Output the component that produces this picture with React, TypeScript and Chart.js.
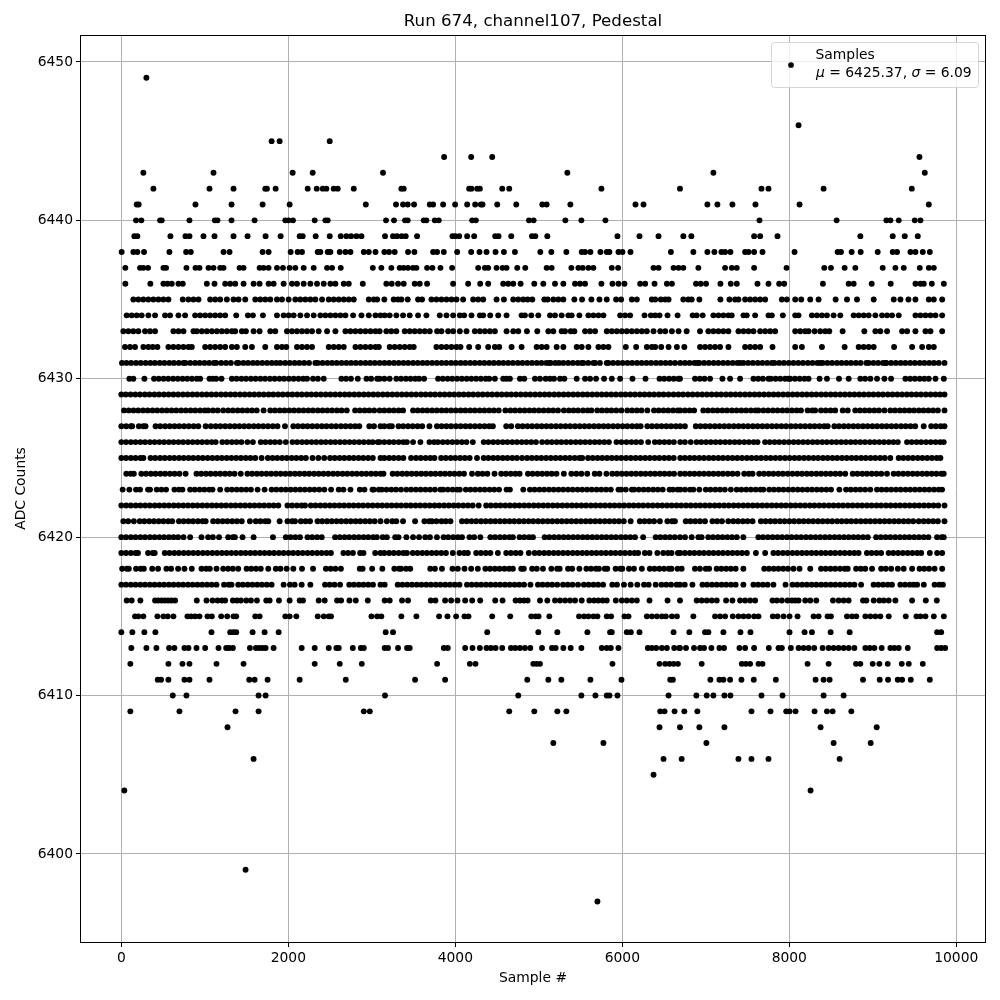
import React, { useEffect, useRef } from "react";
import { Chart, registerables } from "chart.js";

Chart.register(...registerables);

const chartTitle = "Run 674, channel107, Pedestal";
const xAxisLabel = "Sample #";
const yAxisLabel = "ADC Counts";
const seriesLabel = "Samples";
const meanValue = "6425.37";
const sigmaValue = "6.09";
const xTickValues = [0, 2000, 4000, 6000, 8000, 10000];
const yTickValues = [6400, 6410, 6420, 6430, 6440, 6450];

const at6449 = [300];
const at6446 = [8111];
const at6445 = [1800, 1896, 2496];
const at6444 = [3866, 4190, 4442, 9559];
const at6443 = [264, 1104, 2052, 2292, 3134, 5342, 7091, 9623];
const at6442 = [384, 1056, 1344, 1724, 1744, 1848, 2232, 2340, 2412, 2456, 2544, 2592, 2784, 3354, 3382, 4166, 4194, 4262, 4294, 4562, 4646, 5750, 6691, 7667, 7751, 8411, 9467];
const at6441 = [184, 208, 888, 1320, 1692, 2016, 2928, 3290, 3374, 3430, 3506, 3694, 3734, 3854, 3998, 4142, 4238, 4306, 4326, 4502, 4730, 5042, 5094, 5378, 6158, 6254, 7019, 7139, 7319, 7595, 8123, 9671];
const at6440 = [176, 240, 464, 484, 816, 1120, 1152, 1320, 1596, 1964, 2004, 2056, 2316, 2444, 2472, 3170, 3266, 3398, 3430, 3622, 3654, 3754, 3802, 4202, 4246, 4882, 4938, 5318, 5510, 5798, 7643, 8567, 9163, 9211, 9311, 9503, 9571];
const at6439 = [156, 192, 588, 768, 816, 984, 1116, 1344, 1512, 1728, 1908, 2136, 2172, 2328, 2496, 2628, 2696, 2752, 2816, 2876, 3158, 3254, 3302, 3358, 3406, 3542, 3966, 3998, 4046, 4142, 4226, 4478, 4518, 4670, 4918, 4958, 5102, 5942, 6206, 6434, 6731, 6827, 7579, 7651, 7859, 8851, 9239, 9383, 9539];
const at6438 = [4, 144, 192, 272, 576, 776, 832, 1224, 1296, 1692, 1764, 2028, 2112, 2164, 2352, 2384, 2472, 2504, 2616, 2684, 2744, 2904, 2964, 3044, 3150, 3206, 3274, 3434, 3510, 3734, 3782, 3862, 4022, 4190, 4290, 4374, 4482, 4582, 4714, 5018, 5150, 5330, 5514, 5554, 5618, 5738, 5814, 5846, 5954, 6002, 6098, 6582, 6851, 7019, 7103, 7187, 7231, 7295, 7471, 7511, 7579, 7679, 8063, 8579, 8619, 8747, 8855, 9059, 9239, 9291, 9451, 9511, 9599, 9683];
const at6437 = [48, 224, 264, 320, 504, 536, 780, 888, 936, 1044, 1104, 1184, 1224, 1416, 1464, 1656, 1704, 1764, 1864, 1936, 2016, 2084, 2184, 2304, 2464, 2524, 2628, 3012, 3114, 3234, 3334, 3382, 3434, 3494, 3534, 3662, 3726, 3822, 3962, 4274, 4354, 4394, 4494, 4566, 4614, 4742, 4838, 5094, 5154, 5390, 5474, 5526, 5594, 5654, 5874, 5950, 6374, 6434, 6614, 6674, 6731, 6911, 7231, 7311, 7371, 7579, 7967, 8419, 8499, 8663, 8791, 9119, 9271, 9371, 9563, 9671, 9731];
const at6436 = [48, 348, 504, 552, 604, 684, 736, 1024, 1116, 1244, 1304, 1364, 1464, 1584, 1656, 1764, 1824, 1944, 2044, 2104, 2184, 2264, 2344, 2424, 2504, 2564, 2664, 2724, 2892, 3174, 3238, 3314, 3382, 3514, 3574, 3662, 3974, 4154, 4298, 4394, 4574, 4634, 4694, 4782, 4946, 5054, 5194, 5294, 5434, 5494, 5554, 5750, 5882, 5954, 6026, 6214, 6274, 6386, 6534, 6594, 6883, 6939, 7003, 7175, 7299, 7371, 7619, 7751, 7879, 7939, 8403, 8711, 8771, 8987, 9215, 9511, 9571, 9611, 9707, 9851];
const at6435 = [144, 204, 264, 324, 384, 444, 504, 564, 736, 804, 864, 924, 1064, 1124, 1184, 1264, 1344, 1404, 1484, 1604, 1664, 1724, 1784, 1864, 1924, 2004, 2084, 2144, 2204, 2264, 2324, 2404, 2484, 2544, 2604, 2664, 2724, 2784, 2964, 3024, 3064, 3150, 3262, 3314, 3354, 3430, 3554, 3602, 3714, 3774, 3834, 3894, 3954, 4014, 4094, 4214, 4274, 4334, 4494, 4582, 4694, 4754, 4814, 4866, 4922, 5066, 5106, 5174, 5234, 5294, 5426, 5518, 5630, 5726, 5814, 5926, 5986, 6114, 6174, 6354, 6394, 6462, 6514, 6554, 6731, 6791, 6831, 6923, 7175, 7283, 7351, 7391, 7471, 7531, 7591, 7651, 7711, 7911, 7971, 8071, 8143, 8251, 8351, 8555, 8691, 8811, 9011, 9251, 9331, 9427, 9511, 9671, 9731, 9831];
const at6434 = [64, 124, 184, 244, 324, 404, 524, 584, 684, 764, 884, 944, 1004, 1064, 1124, 1184, 1244, 1376, 1516, 1576, 1696, 1864, 1944, 2004, 2064, 2144, 2224, 2304, 2384, 2444, 2504, 2564, 2624, 2684, 2776, 2876, 2964, 3044, 3104, 3154, 3214, 3294, 3374, 3454, 3554, 3654, 3814, 3894, 3974, 4054, 4106, 4194, 4294, 4334, 4418, 4514, 4614, 4794, 4834, 4910, 4994, 5134, 5194, 5274, 5354, 5394, 5486, 5594, 5654, 5714, 5774, 5974, 6034, 6094, 6266, 6342, 6394, 6446, 6542, 6662, 6843, 6891, 6963, 7091, 7151, 7211, 7271, 7311, 7451, 7491, 7591, 7751, 7791, 7923, 8071, 8111, 8271, 8331, 8391, 8451, 8531, 8611, 8771, 8831, 8891, 8951, 9031, 9111, 9171, 9231, 9311, 9511, 9571, 9631, 9691, 9751, 9831];
const at6433 = [24, 84, 144, 204, 284, 344, 404, 624, 684, 744, 864, 904, 964, 1024, 1084, 1144, 1204, 1264, 1324, 1364, 1444, 1492, 1584, 1656, 1784, 1844, 1984, 2044, 2104, 2164, 2224, 2284, 2364, 2464, 2564, 2684, 2744, 2804, 2864, 2924, 2984, 3044, 3094, 3174, 3234, 3294, 3394, 3454, 3514, 3574, 3634, 3694, 3782, 3834, 3914, 3974, 4054, 4134, 4234, 4294, 4354, 4414, 4474, 4614, 4694, 4754, 4858, 4982, 5114, 5174, 5274, 5314, 5382, 5426, 5554, 5614, 5674, 5814, 5874, 5934, 5994, 6054, 6114, 6174, 6234, 6294, 6374, 6454, 6514, 6594, 6674, 6771, 6931, 7031, 7091, 7151, 7211, 7271, 7391, 7451, 7511, 7571, 7651, 7711, 7771, 7831, 8071, 8131, 8191, 8231, 8303, 8371, 8431, 8479, 8639, 8899, 9031, 9091, 9171, 9351, 9411, 9511, 9631, 9691, 9831];
const at6432 = [44, 104, 164, 264, 324, 376, 432, 564, 624, 684, 744, 804, 844, 1004, 1064, 1124, 1184, 1244, 1324, 1384, 1484, 1564, 1724, 1864, 1924, 1976, 2104, 2164, 2224, 2284, 2484, 2544, 2604, 2664, 2804, 2864, 2924, 2984, 3044, 3084, 3214, 3274, 3334, 3394, 3454, 3502, 3774, 3834, 3894, 3954, 4014, 4062, 4166, 4274, 4394, 4474, 4526, 4674, 4794, 4974, 5034, 5094, 5214, 5294, 5454, 5514, 5594, 5714, 5774, 5834, 6042, 6166, 6294, 6354, 6394, 6466, 6554, 6654, 6743, 6931, 6991, 7051, 7111, 7171, 7271, 7471, 7531, 7591, 7651, 7799, 8071, 8151, 8391, 8663, 8831, 8891, 8951, 9011, 9255, 9471, 9591, 9671, 9731];
const at6431 = [8, 62, 118, 176, 232, 291, 348, 402, 460, 516, 575, 630, 688, 744, 768, 826, 884, 938, 996, 1052, 1108, 1136, 1196, 1254, 1312, 1384, 1404, 1462, 1518, 1576, 1630, 1688, 1746, 1802, 1856, 1904, 1962, 2018, 2076, 2132, 2190, 2248, 2324, 2352, 2410, 2468, 2524, 2580, 2638, 2696, 2752, 2808, 2866, 2924, 2980, 3036, 3094, 3152, 3208, 3266, 3322, 3380, 3436, 3494, 3550, 3608, 3664, 3722, 3778, 3836, 3892, 3950, 4006, 4064, 4120, 4178, 4234, 4292, 4348, 4406, 4462, 4520, 4576, 4634, 4690, 4748, 4804, 4862, 4918, 4976, 5032, 5090, 5126, 5142, 5198, 5242, 5294, 5352, 5408, 5466, 5514, 5534, 5592, 5654, 5674, 5732, 5814, 5834, 5890, 5948, 6004, 6062, 6118, 6176, 6232, 6290, 6346, 6404, 6460, 6518, 6574, 6632, 6694, 6750, 6806, 6864, 6899, 6923, 6980, 7036, 7094, 7150, 7208, 7264, 7322, 7378, 7411, 7451, 7508, 7564, 7622, 7678, 7736, 7791, 7823, 7880, 7936, 7994, 8050, 8108, 8164, 8222, 8278, 8336, 8371, 8399, 8456, 8512, 8570, 8626, 8684, 8740, 8798, 8854, 8923, 8951, 9008, 9064, 9122, 9151, 9163, 9220, 9276, 9334, 9390, 9448, 9504, 9562, 9618, 9676, 9732, 9790, 9859];
const at6430 = [96, 144, 276, 392, 448, 506, 562, 620, 676, 734, 790, 846, 904, 944, 1056, 1096, 1136, 1200, 1324, 1380, 1438, 1494, 1552, 1608, 1666, 1722, 1780, 1836, 1894, 1950, 2008, 2064, 2122, 2178, 2224, 2296, 2354, 2424, 2636, 2692, 2750, 2832, 2936, 2992, 3064, 3094, 3150, 3214, 3294, 3350, 3408, 3464, 3520, 3566, 3626, 3794, 3850, 3908, 3964, 4022, 4078, 4136, 4192, 4250, 4306, 4364, 4406, 4474, 4574, 4614, 4654, 4774, 4826, 4954, 5014, 5082, 5134, 5182, 5254, 5306, 5454, 5554, 5614, 5686, 5782, 5874, 5974, 6122, 6278, 6446, 6502, 6560, 6616, 6672, 6691, 6871, 6928, 6984, 7051, 7199, 7291, 7411, 7571, 7628, 7684, 7751, 7779, 7836, 7892, 7950, 7991, 8011, 8068, 8124, 8182, 8231, 8363, 8451, 8595, 8711, 8851, 8908, 8971, 9051, 9139, 9219, 9391, 9448, 9504, 9562, 9618, 9671, 9751, 9851];
const at6429 = [0, 54, 110, 168, 224, 282, 338, 396, 452, 510, 566, 624, 680, 738, 794, 852, 908, 966, 1022, 1080, 1136, 1194, 1250, 1308, 1364, 1422, 1478, 1536, 1592, 1650, 1706, 1764, 1820, 1878, 1934, 1992, 2048, 2106, 2162, 2220, 2276, 2334, 2390, 2448, 2504, 2562, 2618, 2676, 2732, 2790, 2846, 2904, 2960, 3018, 3074, 3132, 3188, 3246, 3302, 3360, 3416, 3474, 3530, 3588, 3644, 3702, 3758, 3816, 3872, 3930, 3986, 4044, 4100, 4158, 4214, 4272, 4328, 4386, 4442, 4500, 4556, 4614, 4670, 4728, 4784, 4842, 4898, 4956, 5012, 5070, 5126, 5184, 5240, 5298, 5354, 5412, 5468, 5526, 5582, 5640, 5696, 5754, 5810, 5868, 5924, 5982, 6038, 6096, 6152, 6210, 6266, 6324, 6380, 6438, 6494, 6554, 6614, 6672, 6728, 6786, 6842, 6900, 6956, 7014, 7070, 7128, 7184, 7242, 7298, 7356, 7412, 7470, 7526, 7584, 7640, 7698, 7754, 7812, 7868, 7926, 7982, 8040, 8096, 8154, 8210, 8268, 8324, 8382, 8438, 8496, 8552, 8610, 8666, 8724, 8780, 8838, 8894, 8952, 9008, 9066, 9122, 9180, 9236, 9294, 9350, 9408, 9464, 9522, 9578, 9636, 9692, 9750, 9806, 9859];
const at6428 = [32, 88, 146, 202, 260, 316, 374, 430, 488, 544, 602, 658, 716, 772, 830, 886, 944, 1000, 1040, 1098, 1154, 1220, 1280, 1336, 1394, 1450, 1508, 1564, 1622, 1704, 1784, 1840, 1898, 1954, 2012, 2068, 2126, 2182, 2240, 2296, 2354, 2410, 2468, 2524, 2582, 2638, 2700, 2800, 2856, 2914, 2970, 3028, 3094, 3150, 3208, 3264, 3322, 3374, 3494, 3550, 3608, 3664, 3722, 3778, 3836, 3892, 3950, 4006, 4064, 4120, 4178, 4234, 4292, 4348, 4406, 4462, 4520, 4600, 4660, 4716, 4774, 4830, 4888, 4944, 5002, 5058, 5116, 5172, 5230, 5300, 5360, 5416, 5470, 5530, 5586, 5630, 5700, 5756, 5814, 5870, 5928, 5990, 6060, 6116, 6174, 6230, 6300, 6380, 6436, 6494, 6550, 6608, 6664, 6694, 6750, 6806, 6860, 6970, 7026, 7084, 7140, 7198, 7254, 7312, 7368, 7426, 7482, 7540, 7596, 7630, 7690, 7746, 7804, 7860, 7918, 7974, 8032, 8088, 8140, 8220, 8276, 8310, 8380, 8436, 8494, 8550, 8640, 8700, 8790, 8846, 8904, 8960, 9018, 9074, 9140, 9210, 9266, 9324, 9380, 9438, 9494, 9552, 9608, 9666, 9722, 9780, 9859];
const at6427 = [0, 58, 114, 130, 210, 262, 290, 410, 466, 524, 580, 638, 694, 752, 808, 866, 922, 1010, 1072, 1130, 1186, 1244, 1300, 1358, 1414, 1472, 1528, 1586, 1642, 1700, 1756, 1814, 1870, 1960, 2060, 2116, 2174, 2230, 2288, 2344, 2402, 2458, 2516, 2572, 2630, 2686, 2744, 2800, 2850, 2970, 3026, 3104, 3150, 3208, 3240, 3320, 3376, 3434, 3490, 3548, 3604, 3690, 3780, 3836, 3894, 3950, 4008, 4064, 4122, 4178, 4236, 4292, 4350, 4406, 4450, 4610, 4670, 4750, 4806, 4864, 4920, 4978, 5034, 5092, 5148, 5206, 5262, 5320, 5376, 5434, 5490, 5548, 5604, 5662, 5718, 5776, 5832, 5890, 5946, 6004, 6060, 6118, 6174, 6220, 6300, 6356, 6414, 6470, 6528, 6584, 6642, 6694, 6750, 6880, 6936, 6994, 7050, 7108, 7164, 7222, 7278, 7336, 7392, 7450, 7506, 7564, 7620, 7678, 7734, 7792, 7848, 7906, 7962, 8020, 8076, 8134, 8190, 8248, 8304, 8362, 8418, 8460, 8540, 8596, 8654, 8710, 8768, 8824, 8882, 8938, 8996, 9052, 9110, 9166, 9224, 9280, 9338, 9394, 9452, 9508, 9610, 9700, 9756, 9814, 9859];
const at6426 = [0, 56, 114, 170, 228, 284, 342, 398, 456, 512, 570, 626, 684, 740, 798, 854, 912, 968, 1026, 1082, 1130, 1210, 1266, 1324, 1380, 1438, 1510, 1576, 1670, 1726, 1784, 1840, 1898, 1970, 2050, 2106, 2164, 2220, 2278, 2334, 2392, 2448, 2506, 2562, 2620, 2676, 2734, 2790, 2848, 2904, 2962, 3010, 3070, 3094, 3150, 3208, 3264, 3322, 3378, 3420, 3494, 3582, 3690, 3746, 3790, 3850, 3906, 3964, 4020, 4078, 4134, 4210, 4340, 4396, 4454, 4510, 4568, 4624, 4682, 4738, 4796, 4852, 4910, 4966, 5040, 5100, 5156, 5214, 5270, 5328, 5384, 5442, 5498, 5556, 5612, 5670, 5726, 5784, 5840, 5930, 5990, 6050, 6110, 6166, 6224, 6310, 6390, 6446, 6504, 6560, 6618, 6694, 6750, 6820, 6890, 6946, 7004, 7060, 7118, 7174, 7232, 7288, 7346, 7402, 7460, 7516, 7574, 7620, 7710, 7766, 7824, 7880, 7938, 7994, 8052, 8108, 8166, 8222, 8280, 8336, 8394, 8450, 8508, 8564, 8622, 8678, 8736, 8792, 8850, 8906, 8964, 9020, 9078, 9134, 9192, 9248, 9300, 9410, 9466, 9524, 9580, 9638, 9694, 9752, 9808, 9850];
const at6425 = [0, 56, 114, 170, 228, 264, 350, 406, 464, 520, 578, 634, 692, 748, 806, 862, 920, 976, 1034, 1090, 1148, 1204, 1262, 1318, 1376, 1432, 1490, 1546, 1604, 1680, 1755, 1812, 1868, 1926, 1982, 2040, 2096, 2154, 2210, 2290, 2360, 2430, 2500, 2556, 2614, 2670, 2728, 2784, 2842, 2898, 2956, 3012, 3104, 3150, 3208, 3264, 3322, 3378, 3470, 3530, 3586, 3644, 3700, 3750, 3830, 3886, 3944, 4000, 4058, 4114, 4172, 4260, 4340, 4396, 4454, 4510, 4568, 4624, 4682, 4738, 4800, 4860, 4916, 4974, 5030, 5088, 5144, 5202, 5258, 5316, 5372, 5430, 5486, 5520, 5590, 5646, 5704, 5760, 5818, 5874, 5932, 5988, 6046, 6102, 6160, 6216, 6274, 6330, 6388, 6444, 6502, 6558, 6616, 6694, 6750, 6808, 6864, 6922, 6978, 7036, 7092, 7150, 7206, 7264, 7320, 7378, 7434, 7492, 7548, 7606, 7662, 7720, 7776, 7834, 7890, 7948, 8004, 8062, 8118, 8176, 8232, 8290, 8346, 8404, 8460, 8518, 8574, 8632, 8688, 8746, 8802, 8860, 8916, 8974, 9030, 9088, 9144, 9210, 9310, 9366, 9424, 9480, 9538, 9594, 9652, 9708, 9766, 9810];
const at6424 = [60, 112, 150, 240, 296, 354, 410, 468, 524, 582, 638, 696, 770, 900, 956, 1014, 1070, 1128, 1184, 1242, 1298, 1356, 1430, 1510, 1566, 1624, 1680, 1738, 1794, 1852, 1908, 1966, 2022, 2080, 2136, 2194, 2250, 2308, 2364, 2422, 2478, 2536, 2592, 2650, 2706, 2764, 2820, 2878, 2934, 2992, 3048, 3104, 3140, 3250, 3306, 3364, 3420, 3478, 3534, 3592, 3648, 3706, 3762, 3820, 3876, 3934, 3990, 4048, 4104, 4200, 4270, 4326, 4384, 4470, 4550, 4606, 4664, 4720, 4770, 4870, 4926, 4984, 5040, 5098, 5154, 5212, 5300, 5390, 5450, 5510, 5580, 5670, 5726, 5810, 5880, 5936, 5994, 6050, 6108, 6164, 6222, 6278, 6336, 6392, 6450, 6506, 6564, 6620, 6694, 6750, 6808, 6864, 6922, 6978, 7036, 7092, 7150, 7206, 7264, 7320, 7380, 7460, 7516, 7560, 7640, 7696, 7754, 7810, 7868, 7924, 7982, 8038, 8096, 8152, 8210, 8266, 8324, 8380, 8438, 8494, 8552, 8608, 8670, 8760, 8816, 8874, 8930, 8988, 9044, 9102, 9170, 9250, 9306, 9364, 9420, 9478, 9534, 9592, 9648, 9706, 9762, 9820, 9850];
const at6423 = [16, 96, 176, 224, 320, 344, 424, 480, 536, 636, 690, 732, 824, 880, 938, 994, 1052, 1092, 1184, 1268, 1324, 1382, 1438, 1496, 1552, 1632, 1716, 1800, 1856, 1914, 1970, 2028, 2084, 2142, 2198, 2256, 2312, 2370, 2432, 2512, 2604, 2660, 2744, 2856, 2912, 3008, 3024, 3084, 3120, 3176, 3234, 3290, 3350, 3414, 3470, 3528, 3584, 3642, 3698, 3756, 3822, 3854, 3910, 3968, 4022, 4054, 4126, 4182, 4238, 4296, 4352, 4410, 4466, 4524, 4614, 4654, 4814, 4894, 4950, 5008, 5064, 5122, 5178, 5236, 5292, 5350, 5406, 5464, 5520, 5578, 5634, 5692, 5748, 5806, 5862, 5954, 5986, 6042, 6114, 6142, 6198, 6256, 6312, 6370, 6426, 6484, 6566, 6606, 6662, 6694, 6750, 6811, 6851, 6923, 7000, 7056, 7114, 7170, 7228, 7300, 7370, 7426, 7484, 7540, 7598, 7654, 7690, 7760, 7816, 7874, 7930, 7988, 8044, 8102, 8158, 8216, 8272, 8330, 8386, 8444, 8500, 8600, 8680, 8736, 8794, 8850, 8908, 8970, 9050, 9106, 9164, 9220, 9278, 9334, 9392, 9448, 9506, 9562, 9620, 9676, 9734, 9790, 9830];
const at6422 = [0, 58, 114, 172, 228, 286, 342, 400, 456, 514, 570, 628, 684, 742, 798, 856, 912, 970, 1026, 1084, 1140, 1198, 1254, 1312, 1368, 1426, 1482, 1540, 1596, 1654, 1710, 1768, 1824, 1880, 1990, 2046, 2104, 2160, 2200, 2270, 2326, 2384, 2440, 2498, 2554, 2612, 2668, 2726, 2782, 2840, 2896, 2954, 3010, 3068, 3124, 3182, 3238, 3296, 3352, 3410, 3466, 3524, 3580, 3638, 3694, 3752, 3808, 3866, 3922, 3980, 4036, 4094, 4150, 4208, 4280, 4370, 4426, 4484, 4540, 4598, 4654, 4712, 4768, 4826, 4882, 4940, 4996, 5054, 5110, 5168, 5224, 5282, 5338, 5396, 5452, 5510, 5566, 5624, 5680, 5738, 5794, 5852, 5908, 5966, 6022, 6080, 6136, 6194, 6250, 6308, 6364, 6422, 6478, 6536, 6592, 6650, 6706, 6764, 6820, 6878, 6934, 6992, 7048, 7106, 7162, 7220, 7276, 7334, 7390, 7448, 7504, 7562, 7618, 7676, 7732, 7790, 7846, 7904, 7960, 8018, 8074, 8132, 8188, 8246, 8302, 8360, 8416, 8474, 8530, 8588, 8644, 8702, 8758, 8816, 8872, 8930, 8986, 9044, 9100, 9158, 9214, 9272, 9328, 9386, 9442, 9500, 9556, 9614, 9670, 9728, 9784, 9859];
const at6421 = [24, 82, 150, 220, 276, 334, 390, 448, 504, 562, 610, 690, 746, 804, 860, 918, 974, 1010, 1100, 1156, 1214, 1270, 1328, 1384, 1442, 1540, 1610, 1666, 1724, 1760, 1896, 1990, 2046, 2080, 2150, 2206, 2260, 2350, 2406, 2464, 2520, 2578, 2634, 2692, 2748, 2806, 2862, 2920, 2976, 3034, 3104, 3180, 3246, 3294, 3374, 3518, 3630, 3686, 3720, 3774, 3834, 3886, 3942, 4080, 4136, 4194, 4250, 4308, 4364, 4422, 4478, 4536, 4592, 4650, 4706, 4764, 4820, 4878, 4934, 4992, 5048, 5106, 5162, 5220, 5276, 5334, 5390, 5448, 5504, 5562, 5618, 5676, 5732, 5790, 5846, 5904, 5960, 6018, 6100, 6210, 6266, 6324, 6380, 6450, 6540, 6596, 6630, 6760, 6816, 6874, 6930, 6990, 7080, 7136, 7194, 7270, 7330, 7386, 7444, 7500, 7560, 7660, 7716, 7774, 7830, 7888, 7944, 8002, 8058, 8116, 8172, 8230, 8286, 8344, 8400, 8458, 8514, 8572, 8628, 8686, 8742, 8800, 8856, 8914, 8970, 9028, 9084, 9142, 9198, 9256, 9312, 9370, 9426, 9484, 9550, 9610, 9666, 9724, 9780, 9859];
const at6420 = [0, 56, 114, 170, 228, 284, 342, 398, 456, 512, 570, 626, 680, 744, 824, 960, 1040, 1096, 1170, 1280, 1336, 1360, 1452, 1584, 1816, 1970, 2026, 2084, 2140, 2230, 2286, 2344, 2400, 2560, 2616, 2674, 2730, 2788, 2844, 2902, 2958, 3016, 3060, 3130, 3180, 3280, 3320, 3414, 3494, 3566, 3640, 3696, 3780, 3860, 3916, 3974, 4030, 4080, 4170, 4226, 4300, 4420, 4476, 4534, 4590, 4648, 4690, 4770, 4826, 4884, 4930, 5070, 5126, 5184, 5240, 5298, 5354, 5412, 5468, 5526, 5582, 5640, 5696, 5754, 5810, 5868, 5924, 5982, 6038, 6096, 6152, 6250, 6400, 6456, 6514, 6570, 6628, 6691, 6751, 6831, 6911, 6950, 7030, 7086, 7144, 7200, 7258, 7314, 7372, 7450, 7630, 7686, 7744, 7800, 7858, 7914, 7972, 8028, 8086, 8142, 8200, 8256, 8314, 8370, 8428, 8484, 8542, 8598, 8656, 8712, 8770, 8826, 8884, 8940, 9040, 9096, 9154, 9210, 9268, 9324, 9382, 9438, 9496, 9552, 9610, 9666, 9770, 9826, 9850];
const at6419 = [0, 56, 114, 170, 200, 320, 376, 400, 520, 576, 634, 690, 748, 804, 862, 918, 976, 1032, 1090, 1146, 1204, 1260, 1318, 1374, 1432, 1488, 1546, 1602, 1660, 1716, 1774, 1830, 1888, 1944, 2002, 2058, 2116, 2172, 2230, 2286, 2344, 2400, 2458, 2510, 2660, 2716, 2774, 2860, 2900, 3040, 3104, 3150, 3208, 3264, 3322, 3378, 3420, 3490, 3546, 3604, 3660, 3718, 3774, 3832, 3888, 3970, 4050, 4106, 4150, 4250, 4306, 4364, 4420, 4510, 4610, 4666, 4724, 4780, 4880, 4950, 5006, 5064, 5120, 5178, 5234, 5292, 5348, 5406, 5462, 5520, 5576, 5634, 5690, 5748, 5804, 5862, 5918, 5976, 6032, 6090, 6146, 6190, 6270, 6326, 6420, 6490, 6546, 6590, 6666, 6694, 6750, 6808, 6864, 6922, 6978, 7036, 7092, 7150, 7206, 7264, 7320, 7378, 7434, 7492, 7600, 7711, 7810, 7866, 7924, 7980, 8038, 8094, 8152, 8208, 8266, 8322, 8380, 8436, 8494, 8550, 8608, 8664, 8722, 8778, 8830, 8930, 8986, 9044, 9100, 9190, 9246, 9304, 9360, 9418, 9474, 9532, 9580, 9683, 9771, 9831];
const at6418 = [10, 66, 90, 176, 232, 270, 370, 440, 540, 596, 680, 756, 844, 960, 1016, 1060, 1140, 1220, 1280, 1336, 1400, 1500, 1556, 1614, 1670, 1760, 1850, 1906, 1980, 2060, 2164, 2296, 2450, 2506, 2564, 2630, 2856, 2890, 3004, 3126, 3270, 3326, 3350, 3410, 3460, 3700, 3756, 3840, 3966, 4030, 4110, 4190, 4270, 4360, 4416, 4474, 4530, 4588, 4644, 4690, 4790, 4820, 4920, 4976, 5050, 5150, 5220, 5250, 5350, 5400, 5486, 5570, 5626, 5684, 5720, 5790, 5820, 5920, 5976, 6000, 6080, 6140, 6234, 6330, 6386, 6444, 6500, 6558, 6590, 6662, 6711, 6870, 6930, 7000, 7040, 7130, 7186, 7244, 7300, 7358, 7450, 7700, 7756, 7814, 7870, 7928, 7984, 8050, 8123, 8251, 8380, 8436, 8494, 8550, 8608, 8664, 8700, 8800, 8856, 8910, 8991, 9100, 9156, 9220, 9300, 9370, 9471, 9560, 9616, 9674, 9740, 9831];
const at6417 = [0, 56, 114, 170, 228, 284, 342, 398, 456, 512, 570, 626, 684, 740, 798, 854, 912, 968, 1026, 1082, 1140, 1230, 1286, 1320, 1400, 1456, 1514, 1570, 1628, 1684, 1742, 1800, 1944, 2020, 2076, 2160, 2264, 2440, 2496, 2554, 2620, 2730, 2786, 2844, 2900, 2958, 3014, 3104, 3154, 3310, 3366, 3424, 3480, 3538, 3594, 3652, 3708, 3766, 3822, 3880, 3936, 3994, 4050, 4140, 4196, 4254, 4310, 4368, 4424, 4482, 4538, 4596, 4652, 4710, 4766, 4824, 4900, 4990, 5046, 5104, 5160, 5220, 5290, 5346, 5404, 5470, 5540, 5596, 5654, 5710, 5770, 5880, 5936, 6020, 6100, 6180, 6260, 6316, 6400, 6470, 6526, 6584, 6650, 6691, 6748, 6840, 6960, 7016, 7074, 7130, 7188, 7244, 7302, 7358, 7450, 7570, 7626, 7684, 7740, 7810, 7955, 8040, 8096, 8154, 8210, 8268, 8324, 8382, 8438, 8496, 8552, 8610, 8666, 8724, 8780, 8860, 9010, 9066, 9124, 9180, 9230, 9330, 9386, 9444, 9490, 9531, 9611, 9740, 9796, 9840];
const at6416 = [64, 124, 228, 404, 440, 480, 520, 560, 600, 644, 904, 1020, 1092, 1152, 1204, 1244, 1336, 1384, 1432, 1496, 1552, 1624, 1736, 1776, 1888, 2016, 2136, 2176, 2364, 2436, 2584, 2632, 2732, 2808, 2952, 3154, 3214, 3362, 3434, 3706, 3762, 3878, 3950, 4026, 4118, 4202, 4298, 4478, 4566, 4722, 4774, 4822, 4866, 5014, 5102, 5194, 5254, 5314, 5374, 5434, 5514, 5606, 5662, 5714, 5766, 5814, 5922, 5994, 6054, 6114, 6174, 6326, 6542, 6691, 6891, 6951, 7011, 7071, 7131, 7243, 7319, 7411, 7471, 7531, 7591, 7799, 7851, 7911, 7979, 8031, 8071, 8111, 8191, 8251, 8323, 8523, 8591, 8651, 8711, 8883, 8923, 9011, 9079, 9131, 9191, 9271, 9471, 9635, 9767];
const at6415 = [164, 204, 264, 432, 504, 556, 624, 792, 836, 884, 936, 1032, 1084, 1196, 1268, 1344, 1376, 1604, 1656, 1964, 2016, 2096, 2352, 2424, 2484, 2512, 2996, 3064, 3114, 3354, 3534, 3806, 3906, 4010, 4110, 4158, 4442, 4658, 4910, 4962, 4998, 5126, 5482, 5542, 5594, 5654, 5702, 5814, 5866, 6026, 6074, 6294, 6354, 6414, 6474, 6522, 6594, 6654, 6851, 7111, 7171, 7231, 7323, 7391, 7451, 7511, 7579, 7631, 7803, 7859, 7931, 8003, 8099, 8291, 8351, 8459, 8499, 8691, 8751, 8803, 8911, 8971, 9031, 9091, 9191, 9395, 9523, 9571, 9631, 9731, 9851];
const at6414 = [0, 132, 276, 408, 1080, 1304, 1344, 1376, 1572, 1716, 1884, 3166, 3254, 4382, 4994, 5222, 5582, 5854, 5874, 6054, 6102, 6206, 6614, 6803, 6991, 7031, 7211, 7415, 7535, 8003, 8183, 8271, 8495, 8723, 9771, 9819];
const at6413 = [120, 300, 420, 572, 636, 756, 804, 900, 1004, 1164, 1256, 1292, 1336, 1540, 1612, 1652, 1692, 1728, 1824, 2160, 2316, 2484, 2576, 2604, 2772, 2868, 2904, 3154, 3194, 3314, 3422, 3454, 3862, 3910, 4118, 4206, 4294, 4374, 4426, 4482, 4562, 4666, 4718, 4774, 4834, 4898, 5038, 5158, 5202, 5294, 5382, 5510, 5754, 5814, 5862, 5954, 6306, 6354, 6406, 6474, 6534, 6622, 6682, 6691, 6763, 6859, 6931, 6979, 7067, 7163, 7219, 7403, 7471, 7579, 7755, 7871, 7911, 8019, 8111, 8171, 8231, 8299, 8399, 8471, 8531, 8591, 8651, 8711, 8779, 8911, 8963, 9019, 9107, 9211, 9259, 9311, 9419, 9771, 9819, 9867];
const at6412 = [108, 564, 732, 816, 1140, 1464, 2316, 2616, 2880, 3782, 4174, 4242, 4934, 4974, 5014, 5882, 6446, 6514, 6566, 6614, 6666, 6951, 7431, 7479, 7531, 7631, 7679, 8219, 8471, 8799, 8851, 8999, 9079, 9179, 9347, 9431, 9599];
const at6411 = [436, 476, 564, 756, 816, 1056, 1532, 1596, 1752, 2136, 2688, 3518, 3878, 4862, 5114, 5270, 5618, 5990, 6574, 6606, 7055, 7163, 7211, 7291, 7427, 7575, 7839, 8315, 8411, 8483, 8883, 9083, 9183, 9299, 9351, 9455, 9683];
const at6410 = [616, 780, 1644, 1728, 3158, 4754, 5510, 5678, 5814, 5846, 5942, 6554, 6887, 7011, 7091, 7223, 7295, 7667, 7919, 8411, 8651];
const at6409 = [108, 696, 1368, 1644, 2904, 2976, 4646, 4946, 5222, 5330, 6454, 6506, 6626, 6743, 6899, 7547, 7775, 7963, 8003, 8075, 8303, 8451, 8519, 8743];
const at6408 = [1272, 6446, 6691, 6923, 7223, 8375, 9047];
const at6407 = [5174, 5774, 7007, 8531, 8975];
const at6406 = [1584, 6494, 6711, 7391, 7547, 7751, 8603];
const at6405 = [6374];
const at6404 = [36, 8255];
const at6399 = [1488];
const at6397 = [5702];

const adcRows: [number, number[]][] = [
  [6449, at6449], [6446, at6446], [6445, at6445], [6444, at6444], [6443, at6443], [6442, at6442], [6441, at6441],
  [6440, at6440], [6439, at6439], [6438, at6438], [6437, at6437], [6436, at6436], [6435, at6435], [6434, at6434],
  [6433, at6433], [6432, at6432], [6431, at6431], [6430, at6430], [6429, at6429], [6428, at6428], [6427, at6427],
  [6426, at6426], [6425, at6425], [6424, at6424], [6423, at6423], [6422, at6422], [6421, at6421], [6420, at6420],
  [6419, at6419], [6418, at6418], [6417, at6417], [6416, at6416], [6415, at6415], [6414, at6414], [6413, at6413],
  [6412, at6412], [6411, at6411], [6410, at6410], [6409, at6409], [6408, at6408], [6407, at6407], [6406, at6406],
  [6405, at6405], [6404, at6404], [6399, at6399], [6397, at6397],
];

const FONT = '"DejaVu Sans", sans-serif';
const SMALL = 13.89;

const framePlugin = {
  id: "frameAndLegend",
  afterDatasetsDraw(chart: any) {
    const { ctx, chartArea: a } = chart;
    ctx.save();
    ctx.strokeStyle = "#000";
    ctx.lineWidth = 1;
    ctx.strokeRect(Math.round(a.left) - 0.5, Math.round(a.top) + 0.5, Math.round(a.right - a.left) + 1, Math.round(a.bottom - a.top));

    const bx = 771.5, by = 42.5, bw = 207, bh = 45, r = 3;
    ctx.beginPath();
    ctx.roundRect(bx, by, bw, bh, r);
    ctx.fillStyle = "rgba(255,255,255,0.8)";
    ctx.fill();
    ctx.strokeStyle = "rgba(204,204,204,0.8)";
    ctx.stroke();

    ctx.fillStyle = "#000";
    ctx.beginPath();
    ctx.arc(791, 65, 2.85, 0, Math.PI * 2);
    ctx.fill();

    ctx.textBaseline = "alphabetic";
    ctx.textAlign = "left";
    ctx.font = `${SMALL}px ${FONT}`;
    ctx.fillText(seriesLabel, 815.5, 59);
    let x = 816;
    const y = 77;
    const parts: [string, boolean][] = [["μ", true], [" = " + meanValue + ", ", false], ["σ", true], [" = " + sigmaValue, false]];
    for (const [t, it] of parts) {
      ctx.font = `${it ? "italic " : ""}${SMALL}px ${FONT}`;
      ctx.fillText(t, x, y);
      x += ctx.measureText(t).width;
    }
    ctx.restore();
  },
};

export default function App() {
  const ref = useRef<HTMLCanvasElement | null>(null);
  useEffect(() => {
    if (!ref.current) return;
    const points = adcRows.flatMap(([adc, samples]) => samples.map((s) => ({ x: s, y: adc })));
    const chart = new Chart(ref.current, {
      type: "scatter",
      data: {
        datasets: [
          {
            label: seriesLabel,
            data: points,
            backgroundColor: "#000",
            borderWidth: 0,
            pointRadius: 2.95,
            pointHoverRadius: 2.95,
          },
        ],
      },
      options: {
        animation: false,
        responsive: false,
        devicePixelRatio: 1,
        layout: { padding: { left: 0, right: 15, top: 0, bottom: 0 } },
        plugins: {
          legend: { display: false },
          tooltip: { enabled: false },
          title: {
            display: true,
            text: chartTitle,
            color: "#000",
            fullSize: false,
            font: { family: FONT, size: 16.67, weight: "normal", lineHeight: 1.2 },
            padding: { top: 12, bottom: 3 },
          },
        },
        scales: {
          x: {
            type: "linear",
            min: -483,
            max: 10344,
            afterBuildTicks: (s: any) => { s.ticks = xTickValues.map((value) => ({ value })); },
            afterFit: (s: any) => { s.height = 58; },
            ticks: { color: "#000", font: { family: FONT, size: SMALL }, maxRotation: 0, padding: 3, callback: (v: any) => String(v) },
            grid: { color: "#b0b0b0", lineWidth: 1, tickColor: "#000", tickLength: 5 },
            border: { display: false },
            title: { display: true, text: xAxisLabel, color: "#000", font: { family: FONT, size: SMALL }, padding: { top: 4, bottom: 13 } },
          },
          y: {
            type: "linear",
            min: 6394.44,
            max: 6451.7,
            afterBuildTicks: (s: any) => { s.ticks = yTickValues.map((value) => ({ value })); },
            afterFit: (s: any) => { s.width = 81; },
            ticks: { color: "#000", font: { family: FONT, size: SMALL }, padding: 3, callback: (v: any) => String(v) },
            grid: { color: "#b0b0b0", lineWidth: 1, tickColor: "#000", tickLength: 5 },
            border: { display: false },
            title: { display: true, text: yAxisLabel, color: "#000", font: { family: FONT, size: SMALL }, padding: { top: 13, bottom: 3 } },
          },
        },
      },
      plugins: [framePlugin],
    } as any);
    return () => chart.destroy();
  }, []);
  return (
    <div style={{ position: "absolute", left: 0, top: 0, width: 1000, height: 1000, background: "#fff" }}>
      <canvas ref={ref} width={1000} height={1000} style={{ display: "block" }} />
    </div>
  );
}
